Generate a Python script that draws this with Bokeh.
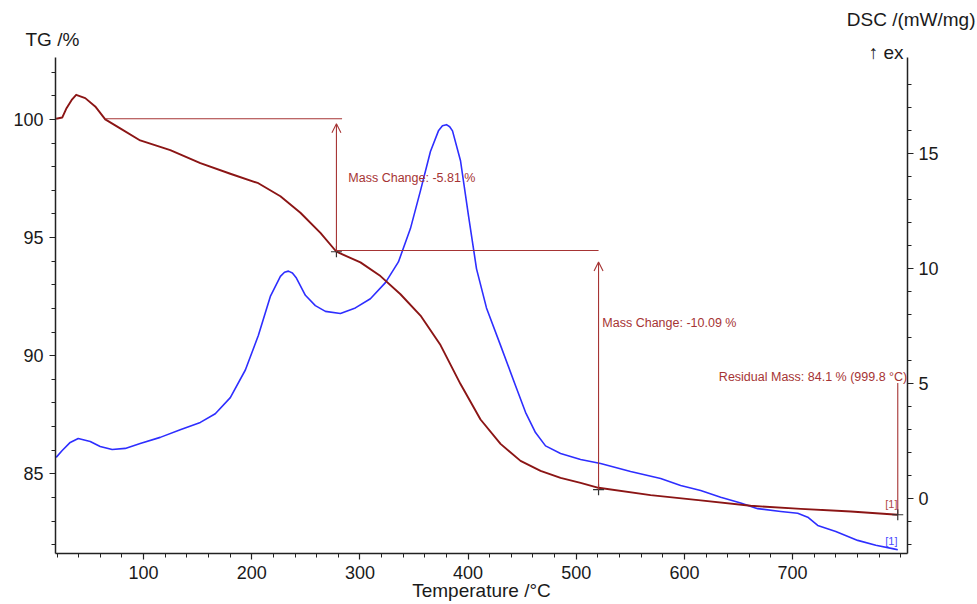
from bokeh.plotting import figure
from bokeh.models import (Range1d, LinearAxis, FixedTicker, Label, Arrow, OpenHead, Title)
from bokeh.embed import file_html
from bokeh.resources import INLINE

# ---------------- data ----------------
tg_temp = [19.2, 24.8, 28.5, 34.0, 37.7, 46.1, 55.3, 64.6, 78.4, 96.9, 124.7, 152.5,
           180.2, 206.1, 226.5, 245.0, 263.5, 278.3, 300.5, 319.0, 337.5, 356.0,
           374.5, 393.0, 411.5, 430.0, 448.5, 467.0, 485.5, 504.0, 520.6, 568.7,
           615.0, 661.2, 707.5, 753.8, 797.2]
tg_mass = [100.03, 100.08, 100.45, 100.85, 101.04, 100.9, 100.55, 100.0, 99.62, 99.11,
           98.7, 98.15, 97.7, 97.3, 96.75, 96.05, 95.2, 94.4, 93.95, 93.37, 92.6,
           91.7, 90.45, 88.8, 87.3, 86.27, 85.55, 85.13, 84.83, 84.62, 84.41, 84.1,
           83.88, 83.65, 83.52, 83.41, 83.27]

dsc_temp = [19.2, 24.8, 32.2, 39.6, 50.7, 59.9, 71.0, 83.1, 96.9, 115.4, 133.9, 152.5,
            166.3, 180.2, 194.1, 206.1, 217.2, 226.5, 230.3, 233.9, 237.6, 241.3,
            249.6, 258.8, 268.1, 282.0, 295.8, 309.7, 323.6, 335.6, 346.7, 356.0,
            365.2, 372.6, 376.3, 380.0, 383.0, 385.6, 393.0, 400.4, 407.8, 417.0,
            430.0, 443.8, 453.1, 462.3, 471.6, 485.5, 504.0, 522.5, 550.2, 578.0,
            596.5, 615.0, 633.5, 652.0, 667.7, 689.0, 704.7, 714.0, 723.2, 739.9,
            760.2, 776.9, 793.5, 797.2]
dsc_val = [1.80, 2.10, 2.45, 2.62, 2.49, 2.27, 2.14, 2.19, 2.40, 2.67, 3.00, 3.32,
           3.70, 4.40, 5.60, 7.10, 8.80, 9.67, 9.85, 9.90, 9.82, 9.60, 8.85, 8.40,
           8.15, 8.06, 8.30, 8.70, 9.40, 10.30, 11.75, 13.40, 15.10, 16.00, 16.22,
           16.27, 16.18, 16.00, 14.70, 12.30, 10.00, 8.30, 6.67, 4.93, 3.76, 2.88,
           2.30, 1.97, 1.71, 1.53, 1.19, 0.88, 0.58, 0.36, 0.07, -0.18, -0.43, -0.55,
           -0.63, -0.80, -1.16, -1.42, -1.81, -2.02, -2.18, -2.22]

x_ticks = [100, 200, 300, 400, 500, 600, 700]
tg_ticks = [85, 90, 95, 100]
dsc_ticks = [0, 5, 10, 15]

# evaluation annotations (temperature, mass)
step1_start = [64.6, 100.03]
step1_end = [278.3, 94.4]
step2_end = [520.6, 84.33]
residual_point = [797.2, 83.27]
texts = ["Mass Change: -5.81 %", "Mass Change: -10.09 %",
         "Residual Mass: 84.1 % (999.8 °C)"]

# ---------------- styles ----------------
RED = "#8b1515"
ANN = "#a63434"
BLUE = "#2e2eff"
FONT = "Liberation Sans"

p = figure(width=977, height=604, output_backend="svg", toolbar_location=None,
           x_range=Range1d(18.6, 806.2), y_range=Range1d(81.63, 102.62),
           min_border_left=55, min_border_right=70, min_border_top=57,
           min_border_bottom=51)
p.extra_y_ranges = {"dsc": Range1d(-2.38, 19.19)}
p.outline_line_color = None
p.xgrid.visible = False
p.ygrid.visible = False
p.background_fill_color = "white"
p.border_fill_color = "white"


def style_axis(ax):
    ax.axis_line_color = "#222222"
    ax.axis_line_width = 1.5
    ax.major_tick_line_color = "#222222"
    ax.minor_tick_line_color = "#222222"
    ax.major_tick_line_width = 1.2
    ax.minor_tick_line_width = 1.0
    ax.major_tick_out = 6
    ax.major_tick_in = 0
    ax.minor_tick_out = 4
    ax.minor_tick_in = 0
    ax.major_label_text_font = FONT
    ax.major_label_text_font_size = "18px"
    ax.major_label_text_color = "#1a1a1a"
    ax.major_label_standoff = 6


xa = p.xaxis[0]
xa.ticker = FixedTicker(ticks=x_ticks, minor_ticks=list(range(20, 820, 20)))
style_axis(xa)
ya = p.yaxis[0]
ya.ticker = FixedTicker(ticks=tg_ticks, minor_ticks=list(range(82, 103)))
style_axis(ya)
ra = LinearAxis(y_range_name="dsc",
                ticker=FixedTicker(ticks=dsc_ticks, minor_ticks=list(range(-2, 19))))
style_axis(ra)
ra.major_label_standoff = 5
p.add_layout(ra, "right")

# curves
p.line(dsc_temp, dsc_val, y_range_name="dsc", line_color=BLUE, line_width=1.6,
       line_join="round")
p.line(tg_temp, tg_mass, line_color=RED, line_width=1.9, line_join="round")

# annotation lines
p.segment(x0=[step1_start[0], step1_end[0]], y0=[step1_start[1], 94.45],
          x1=[283.5, step2_end[0]], y1=[step1_start[1], 94.45],
          line_color=ANN, line_width=1.1)
p.add_layout(Arrow(end=OpenHead(size=9, line_color=ANN, line_width=1.1),
                   x_start=step1_end[0], y_start=step1_end[1],
                   x_end=step1_end[0], y_end=99.82, line_color=ANN, line_width=1.1))
p.add_layout(Arrow(end=OpenHead(size=9, line_color=ANN, line_width=1.1),
                   x_start=step2_end[0], y_start=step2_end[1],
                   x_end=step2_end[0], y_end=93.97, line_color=ANN, line_width=1.1))
p.segment(x0=[residual_point[0]], y0=[88.85], x1=[residual_point[0]],
          y1=[residual_point[1]], line_color=ANN, line_width=1.1)
p.scatter([step1_end[0], step2_end[0], residual_point[0]],
          [step1_end[1], step2_end[1], residual_point[1]],
          marker="cross", size=11, line_color="#333333", line_width=1.2)

# annotation texts
for t, x, y, align in [(texts[0], 289.3, 97.51, "left"),
                       (texts[1], 524.1, 91.38, "left"),
                       (texts[2], 806.0, 89.11, "right")]:
    p.add_layout(Label(x=x, y=y, text=t, text_font=FONT, text_font_size="12.5px",
                       text_color=ANN, text_align=align, text_baseline="alphabetic"))
p.add_layout(Label(x=797.0, y=83.73, text="[1]", text_font=FONT,
                   text_font_size="11px", text_color="#b04848", text_align="right",
                   text_baseline="alphabetic"))
p.add_layout(Label(x=797.0, y=82.17, text="[1]", text_font=FONT,
                   text_font_size="11px", text_color="#4a4aff", text_align="right",
                   text_baseline="alphabetic"))

# axis titles as stacked titles above / below the frame
p.title.text = ""
title_specs = [("↑ ex", "right", 4, -10),
               ("TG /%", "left", -30, -10),
               ("DSC /(mW/mg)", "right", -68, 4)]
for t, align, off, stand in title_specs:
    p.add_layout(Title(text=t, align=align, offset=off, standoff=stand,
                       text_font=FONT, text_font_size="19px",
                       text_font_style="normal", text_color="#1a1a1a"), "above")
p.add_layout(Title(text="Temperature /°C", align="center", standoff=-7,
                   text_font=FONT, text_font_size="19px", text_font_style="normal",
                   text_color="#1a1a1a"), "below")

open("out.html", "w").write(file_html(p, INLINE))
